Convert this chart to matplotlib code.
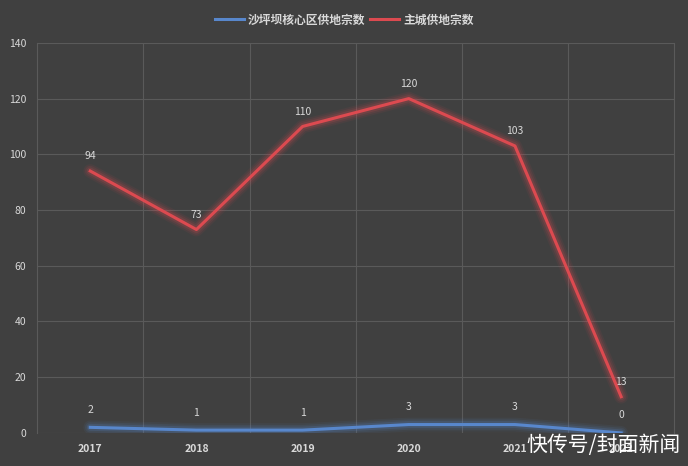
import matplotlib
matplotlib.use("Agg")
import matplotlib.pyplot as plt
from matplotlib.lines import Line2D

plt.rcParams['font.family'] = ['Noto Sans CJK SC', 'DejaVu Sans']

years = ['2017', '2018', '2019', '2020', '2021', '2022']
core = [2, 1, 1, 3, 3, 0]
main = [94, 73, 110, 120, 103, 13]
series_names = ['沙坪坝核心区供地宗数', '主城供地宗数']

bg = '#404040'
grid = '#5a5a5a'
txt = '#d9d9d9'
blue = '#5887cc'
red = '#dc4a50'

fig = plt.figure(figsize=(6.88, 4.66), dpi=100, facecolor=bg)
ax = fig.add_axes([0.054, 0.071, 0.926, 0.837], facecolor=bg)

x = list(range(len(years)))
for vals, col in [(core, blue), (main, red)]:
    for w, a in [(10, 0.07), (7.5, 0.11), (5, 0.18)]:
        ax.plot(x, vals, color=col, lw=w, alpha=a, solid_capstyle='round', zorder=3)
    ax.plot(x, vals, color=col, lw=2.2, zorder=4)

for xi, v in zip(x, core):
    ax.annotate(str(v), (xi, v), xytext=(0, 9), textcoords='offset points',
                ha='center', va='bottom', color=txt, fontsize=7.5)
for xi, v in zip(x, main):
    ax.annotate(str(v), (xi, v), xytext=(0, 7), textcoords='offset points',
                ha='center', va='bottom', color=txt, fontsize=7.5)

ax.set_xlim(-0.5, len(years) - 0.5)
ax.set_ylim(0, 140)
ax.set_yticks(range(0, 141, 20))
ax.set_xticks(x)
ax.set_xticklabels(years, fontweight='bold')
ax.set_xticks([i + 0.5 for i in x[:-1]], minor=True)
ax.grid(axis='y', color=grid, lw=0.8, zorder=0)
ax.grid(axis='x', which='minor', color=grid, lw=0.8, zorder=0)
ax.tick_params(axis='both', which='both', length=0, colors=txt, labelsize=7.5)
ax.tick_params(axis='x', pad=8)
ax.tick_params(axis='y', pad=8)
for s in ['top', 'bottom']:
    ax.spines[s].set_visible(False)
for s in ['left', 'right']:
    ax.spines[s].set_color(grid)
    ax.spines[s].set_linewidth(0.8)

handles = [Line2D([0], [0], color=blue, lw=2.2), Line2D([0], [0], color=red, lw=2.2)]
leg = fig.legend(handles, series_names, loc='center', bbox_to_anchor=(0.5, 0.957),
                 ncol=2, frameon=False, fontsize=8.5, handlelength=2.5,
                 columnspacing=0.4, handletextpad=0.3)
for t in leg.get_texts():
    t.set_color(txt)
    t.set_fontweight('bold')

fig.text(0.99, 0.022, '快传号/封面新闻', ha='right', va='bottom', color='white',
         fontsize=15)

fig.savefig('out.png', dpi=100, facecolor=bg)
